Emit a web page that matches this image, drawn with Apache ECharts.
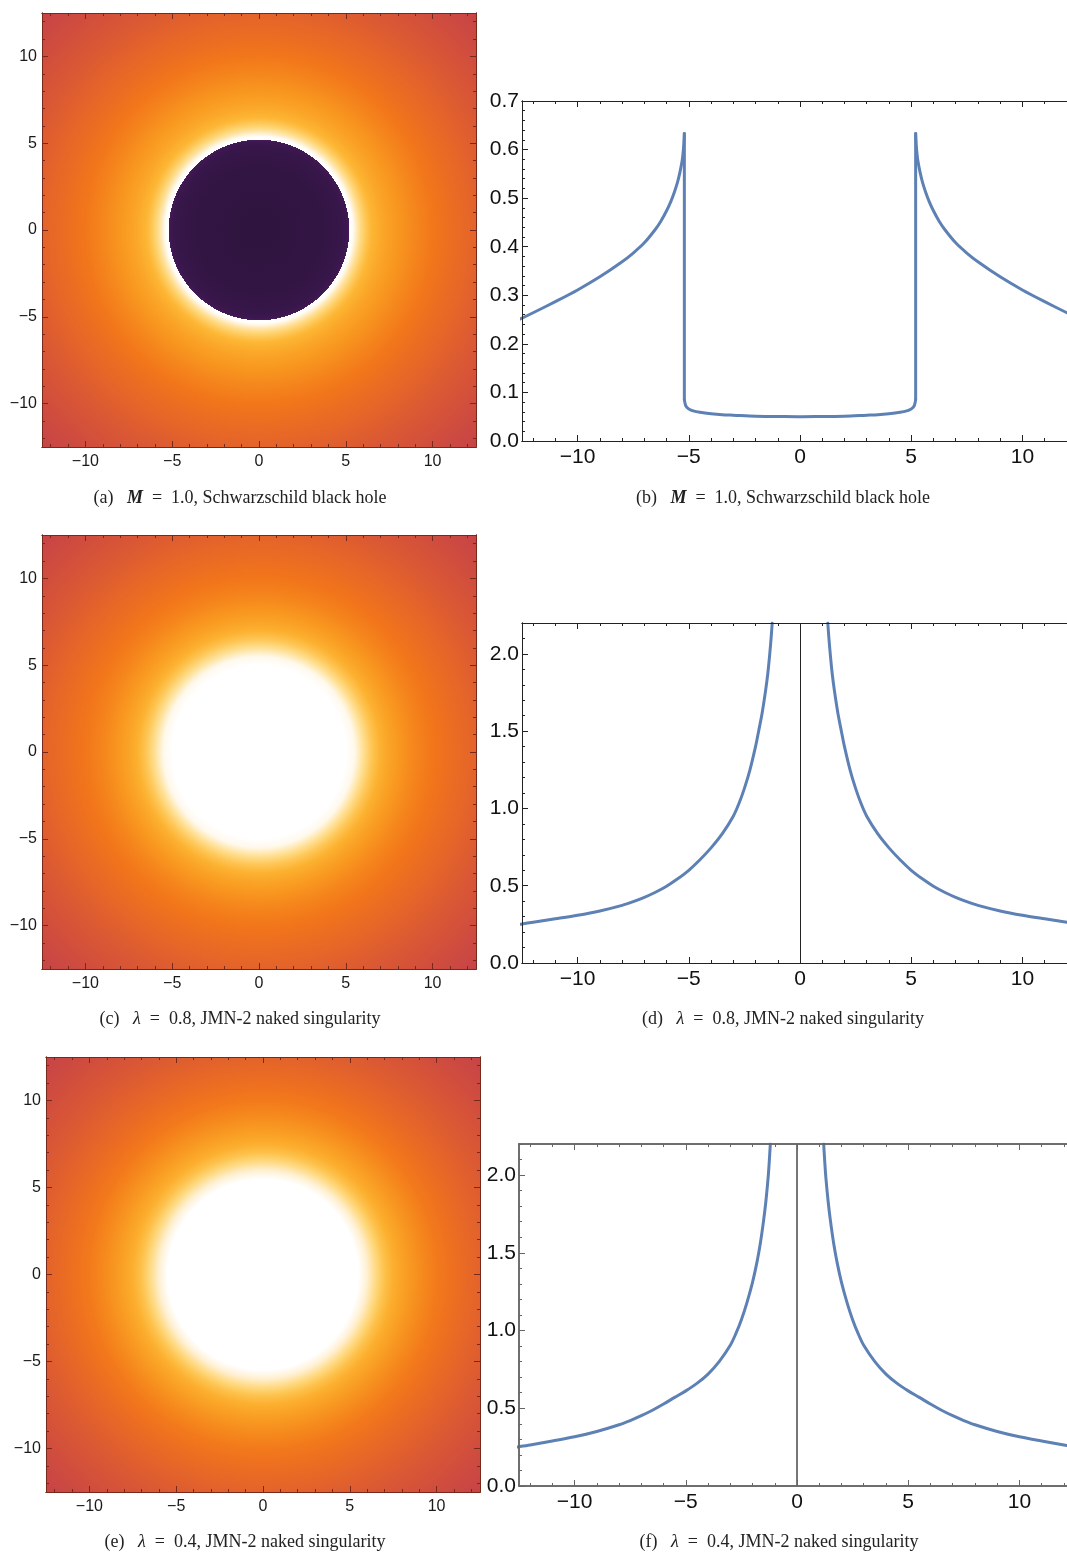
<!DOCTYPE html>
<html>
<head>
<meta charset="utf-8">
<script src="https://cdn.jsdelivr.net/npm/echarts@6/dist/echarts.min.js"></script>
<style>
  html, body { margin: 0; padding: 0; background: #ffffff; }
  #chart { width: 1067px; height: 1553px; }
</style>
</head>
<body>
<div id="chart"></div>
<script>
// ---- Radial intensity profiles I(r), r in units of M ----
// Schwarzschild black hole, M = 1.0 (jump at the photon sphere r ~ 5.2)
const R_BH = [0, 1, 2, 3, 3.5, 4, 4.5, 4.8, 5.0, 5.1, 5.15, 5.2, 5.2, 5.21, 5.23, 5.26, 5.3, 5.4, 5.5, 5.65, 5.8, 6, 6.25, 6.5, 7, 7.5, 8, 9, 10, 11, 12, 12.5, 13, 14, 15, 16, 17, 18];
const I_BH = [0.050, 0.0505, 0.051, 0.053, 0.054, 0.056, 0.059, 0.062, 0.066, 0.070, 0.074, 0.085, 0.633, 0.622, 0.607, 0.592, 0.577, 0.553, 0.534, 0.512, 0.494, 0.474, 0.453, 0.436, 0.408, 0.387, 0.369, 0.338, 0.311, 0.287, 0.264, 0.253, 0.243, 0.226, 0.212, 0.199, 0.187, 0.177];

// JMN-2 naked singularity, lambda = 0.8
const R_JMN08 = [1.25, 1.3, 1.36, 1.45, 1.55, 1.7, 1.86, 2.0, 2.25, 2.5, 2.75, 3, 3.5, 4, 4.5, 5, 5.5, 6, 6.5, 7, 7.5, 8, 9, 10, 11, 12, 12.5, 13, 14, 15, 16, 17, 18];
const I_JMN08 = [2.20, 2.10, 2.00, 1.87, 1.76, 1.62, 1.50, 1.40, 1.25, 1.13, 1.03, 0.95, 0.835, 0.745, 0.668, 0.600, 0.545, 0.497, 0.458, 0.425, 0.397, 0.373, 0.337, 0.309, 0.286, 0.264, 0.253, 0.243, 0.226, 0.212, 0.199, 0.187, 0.177];

// JMN-2 naked singularity, lambda = 0.4
const R_JMN04 = [1.2, 1.25, 1.3, 1.4, 1.5, 1.65, 1.8, 2.0, 2.25, 2.5, 2.75, 3, 3.5, 4, 4.5, 5, 5.5, 6, 6.5, 7, 7.5, 8, 9, 10, 11, 12, 12.5, 13, 14, 15, 16, 17, 18];
const I_JMN04 = [2.20, 2.08, 1.98, 1.83, 1.71, 1.56, 1.44, 1.31, 1.18, 1.07, 0.98, 0.905, 0.800, 0.720, 0.660, 0.612, 0.570, 0.527, 0.487, 0.452, 0.421, 0.394, 0.351, 0.317, 0.290, 0.264, 0.253, 0.243, 0.226, 0.212, 0.199, 0.187, 0.177];

// ---- Intensity -> colour (sunset-like palette, white above saturation) ----
const CMAP_LEVELS = [0.00, 0.05, 0.09, 0.13, 0.17, 0.21, 0.255, 0.31, 0.375, 0.435, 0.47, 0.50, 0.53, 0.56];
const CMAP_COLORS = ['#12061c', '#301440', '#4c1c62', '#8a2c5c', '#c33f4b', '#d4513a', '#e4642a', '#f2761a', '#f99a20', '#fdb533', '#fecf66', '#ffe29a', '#fff2d8', '#ffffff'];

// ---- Axis ranges and tick labels ----
const IMG_MIN = -12.5, IMG_MAX = 12.5;
const IMG_TICKS = [-10, -5, 0, 5, 10];
const PROF_X_TICKS = [-10, -5, 0, 5, 10];
const PROF_Y_TICKS_BH = [0, 0.1, 0.2, 0.3, 0.4, 0.5, 0.6, 0.7];
const PROF_Y_TICKS_JMN = [0, 0.5, 1.0, 1.5, 2.0];
const PROF_Y_MAX_BH = 0.7, PROF_Y_MAX_JMN = 2.2;

// ---- Captions ----
const CAPTIONS = [
  { x: 240, y: 498, text: '(a)   {m|M}  =  1.0, Schwarzschild black hole' },
  { x: 783, y: 498, text: '(b)   {m|M}  =  1.0, Schwarzschild black hole' },
  { x: 240, y: 1019, text: '(c)   {l|\u03BB}  =  0.8, JMN-2 naked singularity' },
  { x: 783, y: 1019, text: '(d)   {l|\u03BB}  =  0.8, JMN-2 naked singularity' },
  { x: 245, y: 1542, text: '(e)   {l|\u03BB}  =  0.4, JMN-2 naked singularity' },
  { x: 779, y: 1542, text: '(f)   {l|\u03BB}  =  0.4, JMN-2 naked singularity' }
];

function range(a, b, step) {
  const out = [];
  const n = Math.round((b - a) / step);
  for (let i = 0; i <= n; i++) out.push(+(a + i * step).toFixed(6));
  return out;
}

function hexToRgb(h) {
  return [parseInt(h.slice(1, 3), 16), parseInt(h.slice(3, 5), 16), parseInt(h.slice(5, 7), 16)];
}
function colormap(v) {
  if (v <= CMAP_LEVELS[0]) return CMAP_COLORS[0];
  for (let i = 1; i < CMAP_LEVELS.length; i++) {
    if (v <= CMAP_LEVELS[i]) {
      const t = (v - CMAP_LEVELS[i - 1]) / (CMAP_LEVELS[i] - CMAP_LEVELS[i - 1]);
      const a = hexToRgb(CMAP_COLORS[i - 1]), b = hexToRgb(CMAP_COLORS[i]);
      const c = a.map((x, k) => Math.round(x + (b[k] - x) * t));
      return 'rgb(' + c.join(',') + ')';
    }
  }
  return CMAP_COLORS[CMAP_COLORS.length - 1];
}

const minus = v => (v < 0 ? '\u2212' + String(-v) : String(v));

const grids = [
  { left: 42, top: 13, width: 434, height: 434 },    // (a)
  { left: 522, top: 101, width: 556, height: 340 },  // (b)
  { left: 42, top: 535, width: 434, height: 434 },   // (c)
  { left: 522, top: 623, width: 556, height: 340 },  // (d)
  { left: 46, top: 1057, width: 434, height: 435 },  // (e)
  { left: 519, top: 1144, width: 556, height: 342 }  // (f)
].map(g => Object.assign({ outerBoundsMode: 'none', containLabel: false }, g));

const xAxes = [], yAxes = [], series = [];

// Builds a framed pair of axes: labelled major ticks plus minor ticks on all four sides.
function frame(g, cfg) {
  const lineStyle = { color: cfg.frameColor, width: cfg.frameWidth || 1 };
  const tickStyle = { color: cfg.frameColor, width: 1 };
  const base = (dim, pos, ticks, len, labels) => ({
    type: 'value', gridIndex: g, position: pos,
    min: dim === 'x' ? cfg.xMin : cfg.yMin,
    max: dim === 'x' ? cfg.xMax : cfg.yMax,
    z: 10,
    axisLine: { show: true, onZero: false, lineStyle: lineStyle },
    axisTick: { show: true, inside: true, length: len, customValues: ticks, lineStyle: tickStyle },
    axisLabel: labels ? Object.assign({ show: true, customValues: ticks }, labels) : { show: false },
    splitLine: { show: false },
    minorTick: { show: false }
  });
  const xi = xAxes.length, yi = yAxes.length;
  xAxes.push(base('x', 'bottom', cfg.xMajor, 6, cfg.xLabel));
  xAxes.push(base('x', 'bottom', cfg.xMinor, 3, null));
  xAxes.push(base('x', 'top', cfg.xMajor, 6, null));
  xAxes.push(base('x', 'top', cfg.xMinor, 3, null));
  yAxes.push(base('y', 'left', cfg.yMajor, 6, cfg.yLabel));
  yAxes.push(base('y', 'left', cfg.yMinor, 3, null));
  yAxes.push(base('y', 'right', cfg.yMajor, 6, null));
  yAxes.push(base('y', 'right', cfg.yMinor, 3, null));
  return { xi, yi };
}

// ---- Left column: intensity images ----
const imgLabel = (margin) => ({
  margin: margin, fontSize: 16, color: '#1a1a1a',
  fontFamily: '"Liberation Sans", Arial, sans-serif', formatter: minus
});

function imagePanel(g, radii, vals) {
  const ax = frame(g, {
    xMin: IMG_MIN, xMax: IMG_MAX, yMin: IMG_MIN, yMax: IMG_MAX,
    xMajor: IMG_TICKS, xMinor: range(-12, 12, 1),
    yMajor: IMG_TICKS, yMinor: range(-12, 12, 1),
    frameColor: '#772a1c',
    xLabel: imgLabel(7), yLabel: imgLabel(5)
  });
  series.push({
    type: 'custom', xAxisIndex: ax.xi, yAxisIndex: ax.yi, silent: true, z: 1, clip: true,
    data: [[0, 0]],
    renderItem: function (params, api) {
      const c = api.coord([0, 0]);
      const tl = api.coord([IMG_MIN, IMG_MAX]);
      const br = api.coord([IMG_MAX, IMG_MIN]);
      const rMax = radii[radii.length - 1];
      const R = api.coord([rMax, 0])[0] - c[0];
      const stops = radii.map((r, i) => ({ offset: r / rMax, color: colormap(vals[i]) }));
      return {
        type: 'rect',
        shape: { x: tl[0], y: tl[1], width: br[0] - tl[0], height: br[1] - tl[1] },
        style: { fill: { type: 'radial', x: c[0], y: c[1], r: R, colorStops: stops, global: true } }
      };
    }
  });
}

// ---- Right column: intensity profiles along the x axis ----
const profLabel = (margin, fmt) => ({
  margin: margin, fontSize: 21, color: '#111111',
  fontFamily: '"Liberation Sans", Arial, sans-serif', formatter: fmt
});
const curveStyle = { color: '#5E81B5', width: 3, cap: 'round', join: 'round' };

function profilePanel(g, radii, vals, yMax, yMajor, yMinorStep, zeroLine, frameColor, frameWidth) {
  const ax = frame(g, {
    xMin: IMG_MIN, xMax: IMG_MAX, yMin: 0, yMax: yMax,
    xMajor: PROF_X_TICKS, xMinor: range(-12, 12, 1),
    yMajor: yMajor, yMinor: range(0, yMax, yMinorStep),
    frameColor: frameColor, frameWidth: frameWidth,
    xLabel: profLabel(6, minus),
    yLabel: profLabel(3, v => v.toFixed(1))
  });
  const common = {
    type: 'line', xAxisIndex: ax.xi, yAxisIndex: ax.yi, showSymbol: false, symbol: 'none',
    clip: true, z: 5, lineStyle: curveStyle, silent: true
  };
  const add = (data, smooth) => series.push(Object.assign({}, common, { data: data, smooth: smooth }));

  // Split the radial profile at a jump (a repeated radius), if there is one.
  let jump = -1;
  for (let i = 1; i < radii.length; i++) if (radii[i] === radii[i - 1]) jump = i;
  const start = jump > 0 ? jump : 0;
  const inner = jump > 0 ? radii.slice(0, jump).map((r, i) => [r, vals[i]]) : [];
  const outer = radii.slice(start).map((r, i) => [r, vals[start + i]]);

  // outer branches, mirrored to negative x
  add(outer.map(p => [-p[0], p[1]]).reverse(), 0.3);
  add(outer, 0.3);
  if (inner.length) {
    const rj = inner[inner.length - 1];
    const top = outer[0];
    // floor inside the shadow, across the centre
    const floor = inner.map(p => [-p[0], p[1]]).reverse().concat(inner.slice(1));
    add(floor, 0.3);
    // vertical edges of the shadow
    add([[-top[0], top[1]], [-rj[0], rj[1]]], false);
    add([[top[0], top[1]], [rj[0], rj[1]]], false);
  }
  if (zeroLine) {
    series[series.length - 1].markLine = {
      silent: true, symbol: ['none', 'none'], label: { show: false },
      lineStyle: { color: zeroLine.color, width: zeroLine.width, type: 'solid' },
      data: [{ xAxis: 0 }]
    };
  }
}

imagePanel(0, R_BH, I_BH);
profilePanel(1, R_BH, I_BH, PROF_Y_MAX_BH, PROF_Y_TICKS_BH, 0.02, null, '#222222', 1);
imagePanel(2, R_JMN08, I_JMN08);
profilePanel(3, R_JMN08, I_JMN08, PROF_Y_MAX_JMN, PROF_Y_TICKS_JMN, 0.1, { color: '#222222', width: 1 }, '#222222', 1);
imagePanel(4, R_JMN04, I_JMN04);
profilePanel(5, R_JMN04, I_JMN04, PROF_Y_MAX_JMN, PROF_Y_TICKS_JMN, 0.1, { color: '#555555', width: 1.6 }, '#666666', 1.5);

const serif = '"Liberation Serif", "Times New Roman", serif';
const CAP_SIZE = 18;
const graphics = CAPTIONS.map(c => ({
  type: 'text', x: c.x, y: c.y, silent: true,
  style: {
    text: c.text, align: 'center', verticalAlign: 'middle',
    fontSize: CAP_SIZE, fontFamily: serif, fill: '#222222',
    rich: {
      m: { fontSize: CAP_SIZE, fontFamily: serif, fontWeight: 'bold', fontStyle: 'italic', fill: '#222222' },
      l: { fontSize: CAP_SIZE, fontFamily: serif, fontStyle: 'italic', fill: '#222222' }
    }
  }
}));

const chart = echarts.init(document.getElementById('chart'), null, { renderer: 'canvas' });
chart.setOption({
  backgroundColor: '#ffffff',
  animation: false,
  grid: grids,
  xAxis: xAxes,
  yAxis: yAxes,
  series: series,
  graphic: graphics
});
</script>
</body>
</html>
